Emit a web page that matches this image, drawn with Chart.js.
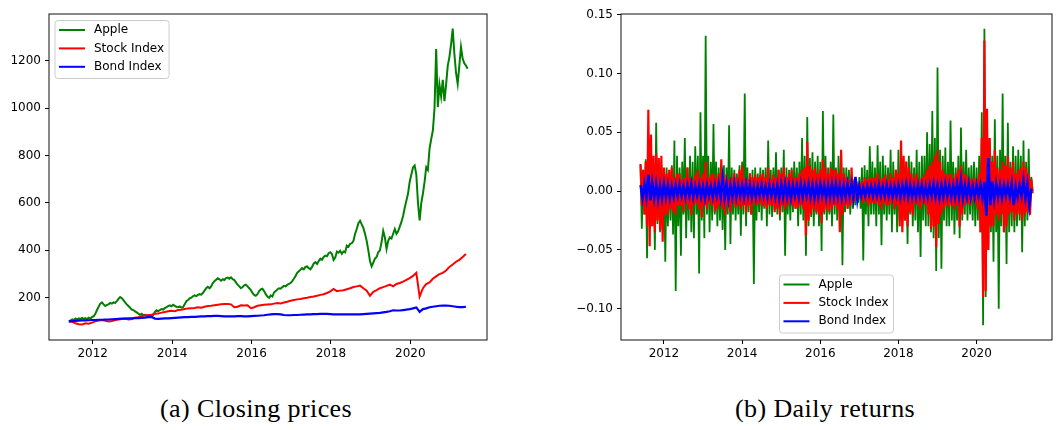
<!DOCTYPE html>
<html>
<head>
<meta charset="utf-8">
<script src="https://cdn.jsdelivr.net/npm/chart.js@4"></script>
<style>
  html, body { margin: 0; padding: 0; background: #fff; }
  body { width: 1062px; height: 430px; position: relative; overflow: hidden; }
  canvas { position: absolute; top: 0; }
  #prices { left: 0; }
  #returns { left: 530px; }
  .caption {
    position: absolute; top: 396px; line-height: 26px;
    font-family: 'Liberation Serif', serif; font-size: 26px; letter-spacing: 0.4px;
    color: #000; white-space: nowrap;
  }
</style>
</head>
<body>
<canvas id="prices" width="500" height="380"></canvas>
<canvas id="returns" width="532" height="380"></canvas>
<div class="caption" style="left:160px">(a) Closing prices</div>
<div class="caption" style="left:735px">(b) Daily returns</div>

<script>
// ---- data ----
const seriesNames = ['Apple', 'Stock Index', 'Bond Index'];
const yearTicks = [2012, 2014, 2016, 2018, 2020];
const priceTicks = [200, 400, 600, 800, 1000, 1200];
const returnTicks = [-0.10, -0.05, 0.00, 0.05, 0.10, 0.15];

const startYear = 2011.4;

// Apple closing price, twice a month
const applePrice = [
  100,104,109,106,112,108,113,110,115,111,114,110,116,112,118,122,132,148,162,175,180,172,165,170,
  172,178,175,180,178,186,195,203,198,190,180,172,165,158,150,148,142,138,133,128,132,126,128,124,
  122,125,121,128,140,147,143,148,152,150,156,160,165,168,164,170,166,162,160,163,158,160,172,185,
  190,197,200,206,210,207,212,215,213,220,230,240,246,240,248,262,270,276,282,278,272,278,275,283,
  285,280,286,278,275,265,255,248,240,245,252,255,248,240,232,220,212,208,215,228,235,238,228,215,
  205,200,210,205,222,228,235,240,238,245,250,248,254,258,262,270,280,292,305,312,318,325,320,330,
  332,325,320,330,345,350,342,355,365,360,372,378,375,388,392,385,360,370,395,390,398,385,395,392,
  420,415,428,430,440,470,490,515,525,510,495,470,440,400,355,332,348,365,372,392,400,435,482,455,
  406,440,455,450,470,490,470,480,500,520,545,580,610,640,690,720,750,758,720,600,526,600,640,690,
  751,740,830,870,906,1000,1250,1005,1100,1050,1120,1030,1100,1180,1216,1270,1336,1230,1150,1103,1180,1259,1210,1190,
  1180,1167
];
// stock and bond index, monthly
const stockPrice = [
  100,98,92,88,87,92,90,95,100,104,106,103,
  100,102,106,108,110,112,108,110,116,118,122,125,
  127,128,132,133,137,140,143,145,143,148,149,152,
  155,156,157,160,158,162,165,166,168,170,172,173,
  173,172,160,162,168,167,168,156,160,166,168,170,
  171,172,175,178,176,180,183,187,190,193,195,198,
  200,203,205,208,212,215,220,227,237,228,230,232,
  236,240,245,248,251,240,230,208,225,232,240,245,
  250,255,248,258,262,268,275,283,292,305,205,240,
  258,265,280,290,300,305,315,330,340,352,360,372,
  385
];
const bondPrice = [
  100,101,102,103,104,104,105,106,106,107,107,108,
  108,109,110,111,112,112,113,113,114,114,115,116,
  118,119,112,111,112,113,113,114,115,116,117,118,
  118,119,119,120,121,121,122,122,123,123,122,121,
  121,121,121,122,122,121,121,122,123,124,125,126,
  128,130,131,131,130,127,126,126,127,127,128,129,
  130,130,131,131,132,132,132,131,130,130,130,130,
  130,130,130,130,130,131,132,133,134,135,136,138,
  140,143,147,146,146,148,150,152,155,159,140,152,
  155,160,162,164,166,167,167,166,164,162,160,160,
  162
];

// daily returns, thinned to 30 per year (Apple, Stock) and 20 per year (Bond)
const appleReturns = [
  0.022,-0.032,0.018,-0.02,0.027,-0.057,0.045,-0.025,0.03,-0.03,0.02,-0.05,0.058,-0.028,0.025,-0.035,0.022,-0.025,0.018,-0.06,0.02,-0.03,0.015,-0.025,0.022,-0.037,0.043,-0.085,0.03,-0.03,
  0.02,-0.055,0.025,-0.02,0.045,-0.04,0.02,-0.025,0.03,-0.035,0.025,-0.04,0.038,-0.02,0.03,-0.07,0.067,-0.025,0.03,-0.04,0.132,-0.02,0.03,-0.035,0.025,-0.025,0.057,-0.02,0.025,-0.03,
  0.02,-0.025,0.018,-0.033,0.022,-0.05,0.02,-0.02,0.056,-0.045,0.02,-0.02,0.018,-0.025,0.015,-0.02,0.022,-0.038,0.025,-0.02,0.083,-0.03,0.02,-0.018,0.015,-0.02,0.018,-0.079,0.02,-0.025,
  0.015,-0.018,0.02,-0.025,0.018,-0.015,0.02,-0.03,0.043,-0.02,0.018,-0.022,0.02,-0.015,0.033,-0.02,0.018,-0.025,0.02,-0.018,0.035,-0.055,0.02,-0.02,0.018,-0.025,0.02,-0.018,0.025,-0.015,
  0.02,-0.03,0.025,-0.02,0.045,-0.025,0.03,-0.055,0.063,-0.03,0.028,-0.022,0.033,-0.03,0.025,-0.02,0.03,-0.03,0.025,-0.051,0.068,-0.02,0.03,-0.025,0.02,-0.02,0.025,-0.03,0.065,-0.02,
  0.02,-0.025,0.03,-0.02,0.033,-0.063,0.02,-0.018,0.02,-0.015,0.018,-0.02,0.012,-0.015,0.01,-0.012,0.008,-0.01,0.012,-0.015,0.02,-0.059,0.022,-0.02,0.018,-0.03,0.038,-0.02,0.025,-0.02,
  0.02,-0.03,0.039,-0.02,0.025,-0.046,0.03,-0.02,0.022,-0.025,0.02,-0.02,0.035,-0.035,0.025,-0.02,0.018,-0.035,0.035,-0.025,0.03,-0.03,0.02,-0.025,0.025,-0.045,0.03,-0.02,0.025,-0.03,
  0.02,-0.025,0.035,-0.035,0.025,-0.056,0.03,-0.025,0.03,-0.03,0.05,-0.03,0.04,-0.035,0.068,-0.04,0.045,-0.068,0.105,-0.04,0.035,-0.066,0.03,-0.025,0.037,-0.03,0.025,-0.03,0.06,-0.025,
  0.025,-0.037,0.02,-0.025,0.03,-0.04,0.054,-0.025,0.025,-0.02,0.035,-0.025,0.02,-0.02,0.022,-0.025,0.025,-0.03,0.02,-0.025,0.03,-0.035,0.067,-0.114,0.138,-0.09,0.06,-0.05,0.045,-0.035,
  0.03,-0.06,0.061,-0.035,0.03,-0.1,0.035,-0.03,0.083,-0.035,0.03,-0.062,0.058,-0.035,0.025,-0.03,0.038,-0.035,0.03,-0.03,0.035,-0.025,0.03,-0.052,0.043,-0.03,0.025,-0.025,0.036,-0.02,
  0.012,0.0
];
const stockReturns = [
  0.023,-0.012,0.018,-0.02,0.025,-0.03,0.069,-0.047,0.048,-0.03,0.03,-0.035,0.032,-0.025,0.028,-0.033,0.03,-0.043,0.02,-0.02,0.015,-0.02,0.018,-0.015,0.02,-0.018,0.012,-0.02,0.015,-0.012,
  0.015,-0.012,0.01,-0.018,0.012,-0.01,0.02,-0.015,0.012,-0.02,0.01,-0.012,0.014,-0.01,0.018,-0.015,0.012,-0.022,0.015,-0.012,0.025,-0.015,0.012,-0.01,0.014,-0.012,0.015,-0.018,0.012,-0.015,
  0.015,-0.012,0.027,-0.015,0.012,-0.02,0.014,-0.012,0.01,-0.018,0.012,-0.01,0.015,-0.014,0.012,-0.012,0.018,-0.015,0.022,-0.012,0.012,-0.018,0.01,-0.012,0.015,-0.02,0.012,-0.01,0.014,-0.012,
  0.012,-0.01,0.014,-0.012,0.015,-0.013,0.012,-0.015,0.02,-0.012,0.01,-0.012,0.014,-0.018,0.012,-0.015,0.018,-0.02,0.015,-0.012,0.02,-0.015,0.012,-0.012,0.015,-0.01,0.018,-0.013,0.012,-0.015,
  0.012,-0.014,0.015,-0.012,0.018,-0.015,0.02,-0.038,0.042,-0.025,0.022,-0.02,0.018,-0.015,0.02,-0.018,0.015,-0.02,0.018,-0.027,0.027,-0.018,0.02,-0.015,0.015,-0.018,0.02,-0.015,0.018,-0.012,
  0.018,-0.015,0.015,-0.035,0.035,-0.02,0.015,-0.012,0.012,-0.015,0.01,-0.012,0.02,-0.01,0.008,-0.008,0.006,-0.007,0.007,-0.006,0.008,-0.01,0.012,-0.008,0.01,-0.012,0.012,-0.01,0.012,-0.01,
  0.012,-0.01,0.015,-0.012,0.01,-0.015,0.012,-0.01,0.014,-0.012,0.01,-0.012,0.015,-0.01,0.012,-0.015,0.018,-0.012,0.015,-0.03,0.043,-0.035,0.03,-0.025,0.025,-0.03,0.02,-0.018,0.015,-0.02,
  0.012,-0.01,0.015,-0.012,0.01,-0.015,0.012,-0.01,0.014,-0.012,0.018,-0.02,0.022,-0.032,0.025,-0.03,0.03,-0.048,0.035,-0.028,0.025,-0.02,0.018,-0.015,0.015,-0.012,0.014,-0.013,0.015,-0.012,
  0.012,-0.015,0.015,-0.012,0.018,-0.03,0.022,-0.02,0.015,-0.012,0.014,-0.01,0.012,-0.012,0.01,-0.008,0.012,-0.01,0.01,-0.015,0.015,-0.035,0.045,-0.09,0.128,-0.085,0.07,-0.05,0.045,-0.03,
  0.025,-0.03,0.035,-0.02,0.02,-0.025,0.018,-0.02,0.025,-0.035,0.022,-0.03,0.03,-0.02,0.02,-0.018,0.025,-0.025,0.015,-0.02,0.018,-0.02,0.02,-0.025,0.025,-0.02,0.02,-0.018,0.015,-0.02,
  0.01,-0.002
];
const bondReturns = [
  0.005,-0.006,0.006,-0.005,0.014,-0.008,0.007,-0.006,0.006,-0.007,0.005,-0.006,0.006,-0.005,0.005,-0.006,0.004,-0.005,0.005,-0.004,
  0.005,-0.004,0.004,-0.005,0.005,-0.004,0.006,-0.005,0.004,-0.004,0.005,-0.005,0.004,-0.006,0.005,-0.004,0.004,-0.005,0.005,-0.004,
  0.006,-0.005,0.011,-0.006,0.006,-0.007,0.005,-0.005,0.006,-0.005,0.005,-0.004,0.005,-0.005,0.006,-0.004,0.005,-0.005,0.004,-0.005,
  0.004,-0.004,0.005,-0.004,0.004,-0.005,0.005,-0.004,0.004,-0.005,0.005,-0.006,0.006,-0.005,0.006,-0.005,0.005,-0.006,0.005,-0.004,
  0.005,-0.005,0.006,-0.005,0.005,-0.004,0.006,-0.005,0.005,-0.006,0.005,-0.005,0.006,-0.004,0.005,-0.006,0.005,-0.005,0.006,-0.005,
  0.006,-0.005,0.005,-0.006,0.005,-0.005,0.006,-0.004,0.006,-0.006,0.012,-0.007,0.004,-0.004,0.003,-0.004,0.004,-0.003,0.004,-0.004,
  0.004,-0.004,0.005,-0.004,0.004,-0.004,0.005,-0.004,0.004,-0.005,0.004,-0.004,0.005,-0.005,0.005,-0.004,0.006,-0.005,0.005,-0.005,
  0.004,-0.005,0.005,-0.004,0.005,-0.005,0.004,-0.005,0.005,-0.004,0.006,-0.005,0.005,-0.006,0.005,-0.005,0.006,-0.004,0.005,-0.005,
  0.005,-0.005,0.006,-0.005,0.009,-0.006,0.005,-0.005,0.006,-0.005,0.004,-0.005,0.005,-0.004,0.005,-0.006,0.008,-0.021,0.028,-0.012,
  0.008,-0.007,0.006,-0.005,0.005,-0.006,0.005,-0.004,0.005,-0.005,0.006,-0.012,0.004,-0.005,0.005,-0.004,0.009,-0.006,0.006,-0.012,
  0.002
];

const colors = ['#008000', '#ff0000', '#0000ff'];
const tickFont = { family: 'DejaVu Sans', size: 12 };

// values -> {x: year, y: value}
function toPoints(values, perYear) {
    return values.map((v, i) => ({ x: startYear + i / perYear, y: v }));
}

function makeDatasets(list, widths) {
    return list.map((data, i) => ({
        label: seriesNames[i],
        data: data,
        borderColor: colors[i],
        backgroundColor: colors[i],
        borderWidth: widths[i],
        borderJoinStyle: 'miter',
        pointRadius: 0,
        tension: 0,
        order: 3 - i   // Apple underneath, bonds on top
    }));
}

// box around the plot area, like matplotlib spines
const frame = {
    id: 'frame',
    afterDatasetsDraw(chart) {
        const { ctx, chartArea: a } = chart;
        ctx.save();
        ctx.strokeStyle = '#111';
        ctx.lineWidth = 1;
        ctx.strokeRect(a.left, a.top, a.right - a.left, a.bottom - a.top);
        ctx.restore();
    }
};

// legend drawn inside the plot area
const boxLegend = {
    id: 'boxLegend',
    afterDraw(chart, args, opts) {
        const { ctx, chartArea: a } = chart;
        const sets = chart.data.datasets;
        ctx.save();
        ctx.font = '12px "DejaVu Sans"';
        const textW = Math.max(...sets.map(d => ctx.measureText(d.label).width));
        const w = 39 + textW + 5, h = 58;
        let x, y;
        if (opts.where === 'upper left') {
            x = a.left + 6; y = a.top + 6.5;
        } else {
            x = (a.left + a.right) / 2 - w / 2; y = a.bottom - 7 - h;
        }
        ctx.beginPath();
        ctx.roundRect(x, y, w, h, 3);
        ctx.fillStyle = 'rgba(255,255,255,0.8)';
        ctx.fill();
        ctx.strokeStyle = '#cccccc';
        ctx.lineWidth = 1;
        ctx.stroke();
        sets.forEach((d, i) => {
            const cy = y + 9.5 + i * 18.4;
            ctx.strokeStyle = d.borderColor;
            ctx.lineWidth = 2;
            ctx.beginPath();
            ctx.moveTo(x + 4, cy);
            ctx.lineTo(x + 30, cy);
            ctx.stroke();
            ctx.fillStyle = '#000';
            ctx.textBaseline = 'middle';
            ctx.fillText(d.label, x + 39, cy);
        });
        ctx.restore();
    }
};

function makeScales(yMin, yMax, yTicks, yWidth, yLabel) {
    const tickGrid = { drawOnChartArea: false, drawTicks: true, tickLength: 4, color: '#000', lineWidth: 1 };
    return {
        x: {
            type: 'linear',
            min: 2010.9,
            max: 2021.93,
            grid: tickGrid,
            border: { display: false },
            afterBuildTicks: s => { s.ticks = yearTicks.map(v => ({ value: v })); },
            afterFit: s => { s.height = 40; },
            ticks: { font: tickFont, color: '#000', padding: 3, maxRotation: 0, callback: v => String(v) }
        },
        y: {
            type: 'linear',
            min: yMin,
            max: yMax,
            grid: tickGrid,
            border: { display: false },
            afterBuildTicks: s => { s.ticks = yTicks.map(v => ({ value: v })); },
            afterFit: s => { s.width = yWidth; },
            ticks: { font: tickFont, color: '#000', padding: 4, callback: yLabel }
        }
    };
}

function baseOptions(scales, legendWhere, padRight) {
    return {
        responsive: false,
        animation: false,
        events: [],
        layout: { padding: { top: 14, right: padRight, left: 0, bottom: 0 } },
        plugins: {
            legend: { display: false },
            tooltip: { enabled: false },
            boxLegend: { where: legendWhere }
        },
        scales: scales
    };
}

new Chart(document.getElementById('prices'), {
    type: 'line',
    data: {
        datasets: makeDatasets([
            toPoints(applePrice, 24),
            toPoints(stockPrice, 12),
            toPoints(bondPrice, 12)
        ], [2, 2, 2.2])
    },
    options: baseOptions(makeScales(21.5, 1398, priceTicks, 49, v => String(v)), 'upper left', 13),
    plugins: [frame, boxLegend]
});

new Chart(document.getElementById('returns'), {
    type: 'line',
    data: {
        datasets: makeDatasets([
            toPoints(appleReturns, 30),
            toPoints(stockReturns, 30),
            toPoints(bondReturns, 20)
        ], [1.8, 2.2, 2.6])
    },
    options: baseOptions(
        makeScales(-0.1266, 0.1505, returnTicks, 91,
            v => (v < 0 ? '\u2212' : '') + Math.abs(v).toFixed(2)),
        'lower center', 10),
    plugins: [frame, boxLegend]
});
</script>
</body>
</html>
